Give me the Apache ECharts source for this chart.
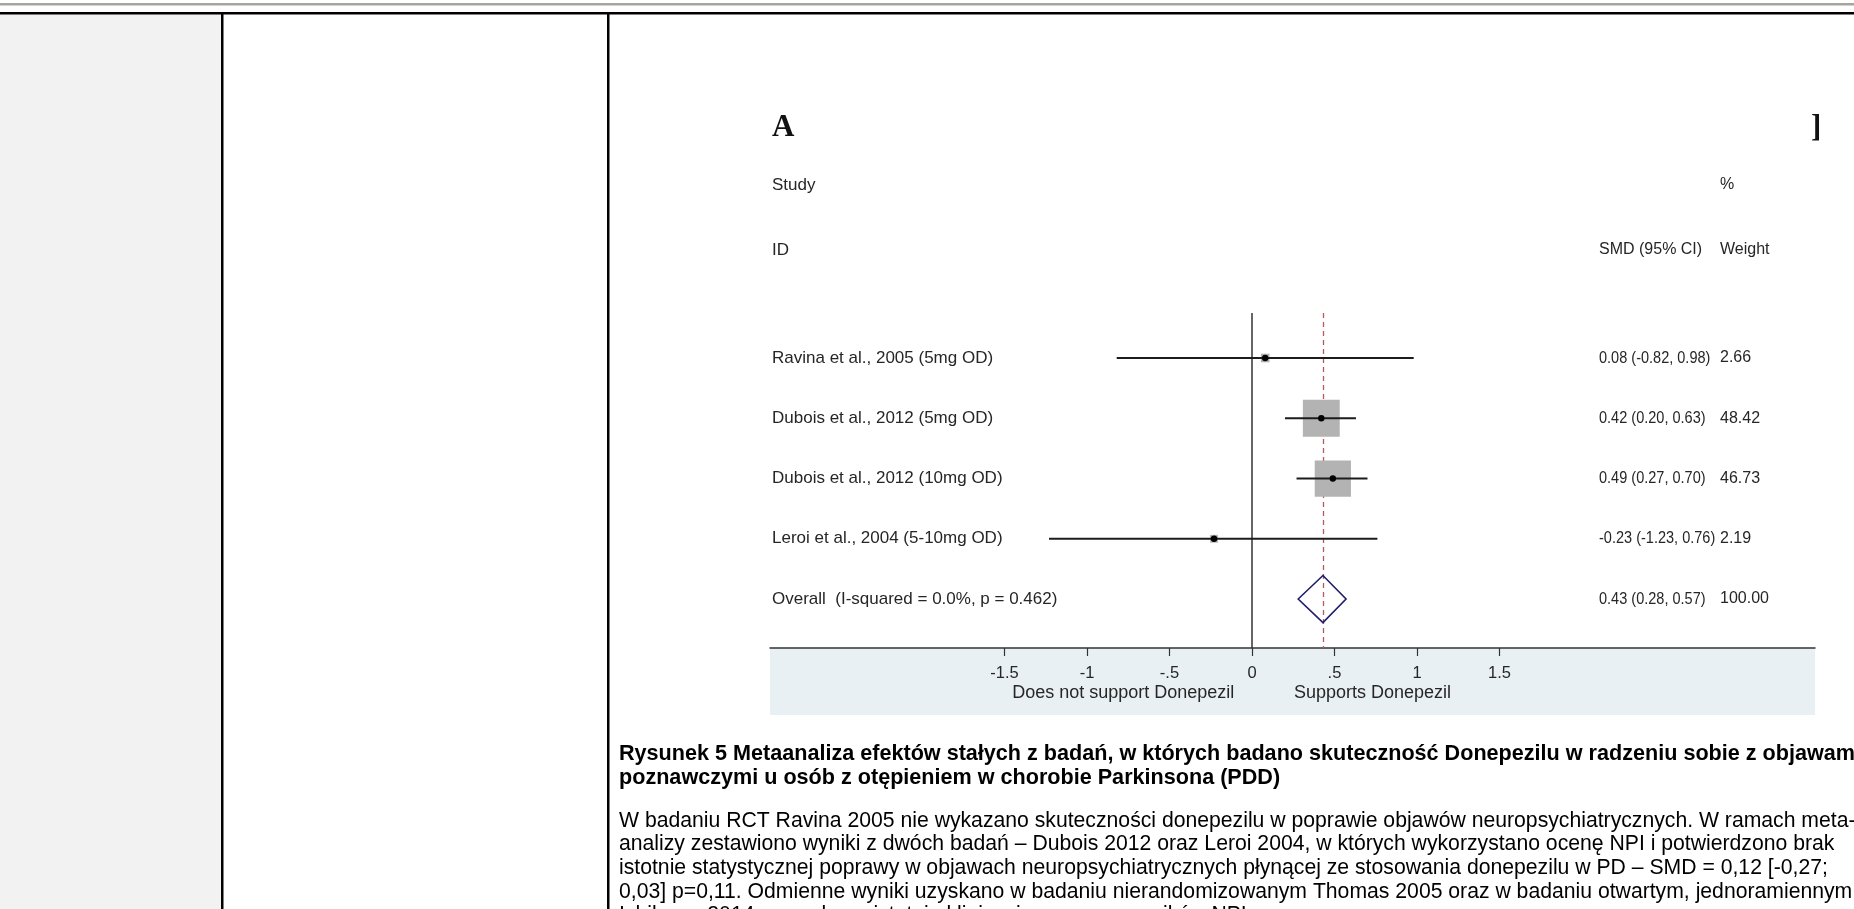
<!DOCTYPE html>
<html>
<head>
<meta charset="utf-8">
<script src="https://cdn.jsdelivr.net/npm/echarts@6/dist/echarts.min.js"></script>
<style>
  html, body { margin: 0; padding: 0; background: #fff; overflow: hidden; }
  #chart { width: 1854px; height: 909px; }
</style>
</head>
<body>
<div id="chart"></div>
<script>
// Forest plot: fixed-effect meta-analysis of donepezil (SMD, 95% CI, % weight)
const studies = [
  'Ravina et al., 2005 (5mg OD)',
  'Dubois et al., 2012 (5mg OD)',
  'Dubois et al., 2012 (10mg OD)',
  'Leroi et al., 2004 (5-10mg OD)'
];
const smd = [0.08, 0.42, 0.49, -0.23];
const ciLow = [-0.82, 0.20, 0.27, -1.23];
const ciHigh = [0.98, 0.63, 0.70, 0.76];
const weights = [2.66, 48.42, 46.73, 2.19];

const overallLabel = 'Overall  (I-squared = 0.0%, p = 0.462)';
const overallSmd = 0.43;
const overallLow = 0.28;
const overallHigh = 0.57;
const overallWeight = 100.00;

const tickValues = [-1.5, -1, -0.5, 0, 0.5, 1, 1.5];
const favoursLabels = ['Does not support Donepezil', 'Supports Donepezil'];
const favoursAt = [-0.78, 0.73];

const captionLines = [
  'Rysunek 5 Metaanaliza efektów stałych z badań, w których badano skuteczność Donepezilu w radzeniu sobie z objawami',
  'poznawczymi u osób z otępieniem w chorobie Parkinsona (PDD)'
];
const paragraphLines = [
  'W badaniu RCT Ravina 2005 nie wykazano skuteczności donepezilu w poprawie objawów neuropsychiatrycznych. W ramach meta-',
  'analizy zestawiono wyniki z dwóch badań – Dubois 2012 oraz Leroi 2004, w których wykorzystano ocenę NPI i potwierdzono brak',
  'istotnie statystycznej poprawy w objawach neuropsychiatrycznych płynącej ze stosowania donepezilu w PD – SMD = 0,12 [-0,27;',
  '0,03] p=0,11. Odmienne wyniki uzyskano w badaniu nierandomizowanym Thomas 2005 oraz w badaniu otwartym, jednoramiennym',
  'Ishikawa 2014 – uzyskano istotnie klinicznie poprawę wyników NPI.'
];

const FONT = '"Liberation Sans", Arial, sans-serif';
const SERIF = '"Liberation Serif", "DejaVu Serif", serif';
const LABEL_FONT = '17px ' + FONT;
const HEAD_FONT = '16px ' + FONT;
const VALUE_FONT = '16.5px ' + FONT;
const TEXT_COLOR = '#262626';
const COL_LABEL_X = 772, COL_SMD_X = 1599, COL_WEIGHT_X = 1720;

const fmt2 = v => v.toFixed(2);
const ciText = (e, lo, hi) => `${fmt2(e)} (${fmt2(lo)}, ${fmt2(hi)})`;
const stataTick = v => v === 0 ? '0' : (v < 0 ? '-' : '') + String(Math.abs(v)).replace(/^0/, '');

const studyData = studies.map((s, i) => [i, smd[i], ciLow[i], ciHigh[i], weights[i]]);
const overallData = [[studies.length, overallSmd, overallLow, overallHigh, overallWeight]];

function rowText(x, y, text, font) {
  return { type: 'text', style: { x, y, text, font, fill: TEXT_COLOR, verticalAlign: 'middle', align: 'left' } };
}
// effect-size column is set slightly condensed
function valueText(x, y, text) {
  return { type: 'text', x, y, scaleX: 0.88,
    style: { x: 0, y: 0, text, font: VALUE_FONT, fill: TEXT_COLOR, verticalAlign: 'middle', align: 'left' } };
}

function renderStudy(params, api) {
  const i = params.dataIndex;
  const row = api.value(0);
  const est = api.value(1), lo = api.value(2), hi = api.value(3), w = api.value(4);
  const pEst = api.coord([est, row]);
  const pLo = api.coord([lo, row]);
  const pHi = api.coord([hi, row]);
  const side = 5.3 * Math.sqrt(w);   // box area proportional to weight
  return {
    type: 'group',
    children: [
      { type: 'rect', shape: { x: pEst[0] - side / 2, y: pEst[1] - side / 2, width: side, height: side },
        style: { fill: '#b3b3b3' } },
      { type: 'line', shape: { x1: pLo[0], y1: pLo[1], x2: pHi[0], y2: pHi[1] },
        style: { stroke: '#1c1c1c', lineWidth: 2 } },
      { type: 'circle', shape: { cx: pEst[0], cy: pEst[1], r: 3.2 }, style: { fill: '#000' } },
      rowText(COL_LABEL_X, pEst[1], studies[i], LABEL_FONT),
      valueText(COL_SMD_X, pEst[1], ciText(est, lo, hi)),
      rowText(COL_WEIGHT_X, pEst[1], fmt2(w), HEAD_FONT)
    ]
  };
}

function renderOverall(params, api) {
  const row = api.value(0);
  const est = api.value(1), lo = api.value(2), hi = api.value(3), w = api.value(4);
  const pEst = api.coord([est, row]);
  const pLo = api.coord([lo, row]);
  const pHi = api.coord([hi, row]);
  const h = 23.5;
  return {
    type: 'group',
    children: [
      { type: 'polygon',
        shape: { points: [[pLo[0], pLo[1]], [pEst[0], pEst[1] - h], [pHi[0], pHi[1]], [pEst[0], pEst[1] + h]] },
        style: { fill: 'none', stroke: '#1d1d6b', lineWidth: 1.6 } },
      rowText(COL_LABEL_X, pEst[1], overallLabel, LABEL_FONT),
      valueText(COL_SMD_X, pEst[1], ciText(est, lo, hi)),
      rowText(COL_WEIGHT_X, pEst[1], fmt2(w), HEAD_FONT)
    ]
  };
}

// Page frame: rules, grey first column, cell borders
const pageGraphics = [
  { type: 'rect', z: -5, shape: { x: 0, y: 13, width: 222, height: 896 }, style: { fill: '#f2f2f2' } },
  { type: 'rect', z: -5, shape: { x: 0, y: 3, width: 1854, height: 2.5 }, style: { fill: '#a8a59e' } },
  { type: 'rect', z: -5, shape: { x: 0, y: 12, width: 1854, height: 2.5 }, style: { fill: '#000' } },
  { type: 'rect', z: -5, shape: { x: 221, y: 12, width: 2.5, height: 897 }, style: { fill: '#000' } },
  { type: 'rect', z: -5, shape: { x: 607, y: 12, width: 2.5, height: 897 }, style: { fill: '#000' } },
  // shaded strip under the x axis
  { type: 'rect', z: -4, shape: { x: 770, y: 648, width: 1045, height: 67 }, style: { fill: '#e9f0f3' } },
  // panel letter and column headers
  { type: 'text', style: { x: 772, y: 128, text: 'A', font: 'bold 31px ' + SERIF, fill: '#111', verticalAlign: 'middle' } },
  { type: 'text', style: { x: 1811, y: 128, text: ']', font: 'bold 31px ' + SERIF, fill: '#111', verticalAlign: 'middle' } },
  { type: 'text', style: { x: 772, y: 185, text: 'Study', font: LABEL_FONT, fill: TEXT_COLOR, verticalAlign: 'middle' } },
  { type: 'text', style: { x: 772, y: 250, text: 'ID', font: LABEL_FONT, fill: TEXT_COLOR, verticalAlign: 'middle' } },
  { type: 'text', style: { x: COL_WEIGHT_X, y: 185, text: '%', font: HEAD_FONT, fill: TEXT_COLOR, verticalAlign: 'middle' } },
  { type: 'text', style: { x: COL_SMD_X, y: 250, text: 'SMD (95% CI)', font: HEAD_FONT, fill: TEXT_COLOR, verticalAlign: 'middle' } },
  { type: 'text', style: { x: COL_WEIGHT_X, y: 250, text: 'Weight', font: HEAD_FONT, fill: TEXT_COLOR, verticalAlign: 'middle' } }
];
captionLines.forEach((t, k) => pageGraphics.push({
  type: 'text', style: { x: 619, y: 754 + k * 24, text: t, font: 'bold 21.6px ' + FONT, fill: '#000', verticalAlign: 'middle' }
}));
paragraphLines.forEach((t, k) => pageGraphics.push({
  type: 'text', style: { x: 619, y: 821 + k * 23.6, text: t, font: '21.2px ' + FONT, fill: '#000', verticalAlign: 'middle' }
}));

const chart = echarts.init(document.getElementById('chart'), null, { renderer: 'canvas' });
chart.setOption({
  animation: false,
  backgroundColor: '#fff',
  graphic: { elements: pageGraphics },
  grid: { left: 770, right: 39, top: 313, bottom: 261 },
  xAxis: [
    {
      type: 'value', min: -2.921, max: 3.412,
      splitLine: { show: false },
      axisLine: { show: true, onZero: false, lineStyle: { color: '#333', width: 1.5 } },
      axisTick: { show: true, length: 8, customValues: tickValues, lineStyle: { color: '#333', width: 1.2 } },
      axisLabel: { show: true, customValues: tickValues, formatter: v => stataTick(v),
        margin: 17, fontFamily: FONT, fontSize: 16.5, color: TEXT_COLOR }
    },
    {
      type: 'value', min: -2.921, max: 3.412, position: 'bottom',
      splitLine: { show: false },
      axisLine: { show: false }, axisTick: { show: false },
      axisLabel: { show: true, customValues: favoursAt,
        formatter: v => favoursLabels[favoursAt.indexOf(v)] || '',
        margin: 36, fontFamily: FONT, fontSize: 18, color: TEXT_COLOR }
    }
  ],
  yAxis: { type: 'value', inverse: true, min: -0.747, max: 4.813, show: false },
  series: [
    {
      type: 'custom', name: 'studies', xAxisIndex: 0,
      renderItem: renderStudy, data: studyData,
      encode: { x: [1, 2, 3], y: 0 },
      z: 5,
      markLine: {
        silent: true, symbol: 'none', label: { show: false },
        data: [
          { xAxis: 0, lineStyle: { color: '#333', width: 1.5, type: 'solid' } },
          { xAxis: overallSmd, lineStyle: { color: '#b45a5a', width: 1.3, type: [5, 4] } }
        ]
      }
    },
    {
      type: 'custom', name: 'overall', xAxisIndex: 0,
      renderItem: renderOverall, data: overallData,
      encode: { x: [1, 2, 3], y: 0 },
      z: 6
    }
  ]
});
</script>
</body>
</html>
